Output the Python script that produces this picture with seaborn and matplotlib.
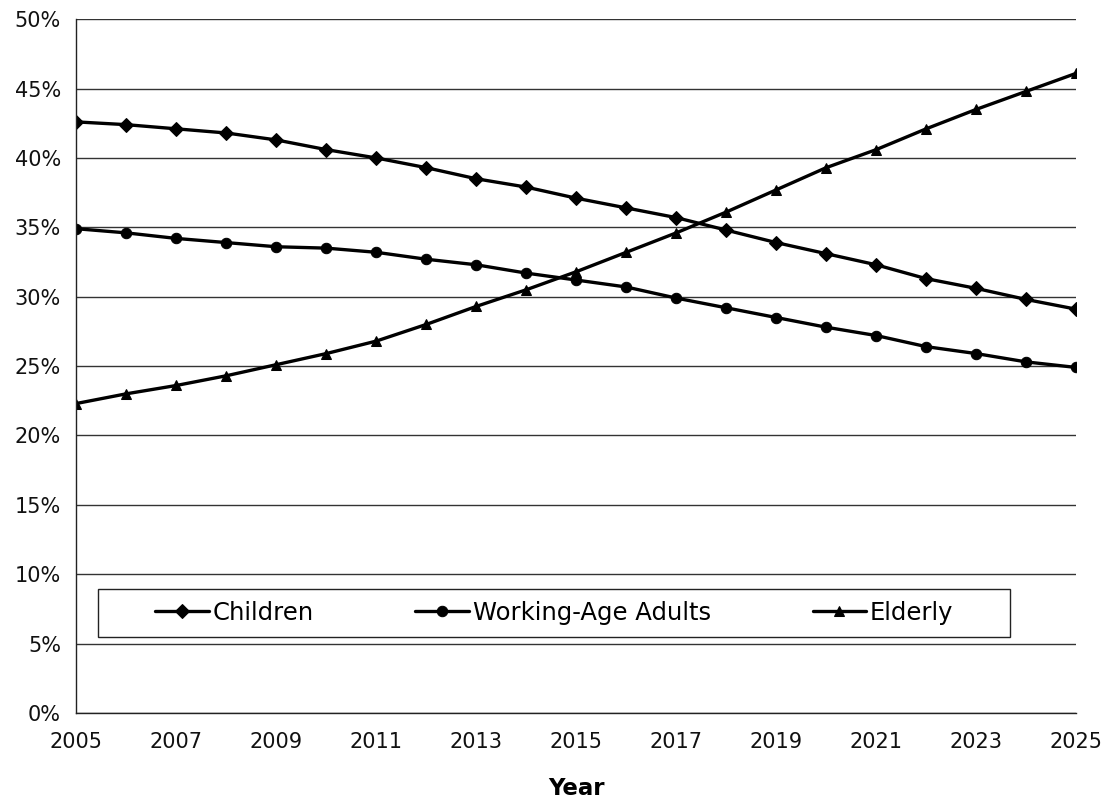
import pandas as pd
import matplotlib
matplotlib.use("Agg")
import matplotlib.pyplot as plt
import seaborn as sns
from matplotlib.patches import Rectangle
from matplotlib.ticker import PercentFormatter, MultipleLocator

# Values (percent of population)
years = list(range(2005, 2026))
children = [42.6, 42.4, 42.1, 41.8, 41.3, 40.6, 40.0, 39.3, 38.5, 37.9, 37.1,
            36.4, 35.7, 34.8, 33.9, 33.1, 32.3, 31.3, 30.6, 29.8, 29.1]
working_age = [34.9, 34.6, 34.2, 33.9, 33.6, 33.5, 33.2, 32.7, 32.3, 31.7, 31.2,
               30.7, 29.9, 29.2, 28.5, 27.8, 27.2, 26.4, 25.9, 25.3, 24.9]
elderly = [22.3, 23.0, 23.6, 24.3, 25.1, 25.9, 26.8, 28.0, 29.3, 30.5, 31.8,
           33.2, 34.6, 36.1, 37.7, 39.3, 40.6, 42.1, 43.5, 44.8, 46.1]
series_names = ["Children", "Working-Age Adults", "Elderly"]
y_ticks = [0, 5, 10, 15, 20, 25, 30, 35, 40, 45, 50]
x_labels = list(range(2005, 2026, 2))

df = pd.DataFrame({
    "Year": years * 3,
    "Share": children + working_age + elderly,
    "Group": [series_names[0]] * len(years) + [series_names[1]] * len(years)
             + [series_names[2]] * len(years),
})

sns.set_style("white")
plt.rcParams["font.family"] = ["DejaVu Sans"]
plt.rcParams["text.color"] = "black"

fig = plt.figure(figsize=(11.06, 8.01), dpi=100)
ax = fig.add_axes([0.069, 0.110, 0.904, 0.866])

sns.lineplot(
    data=df, x="Year", y="Share", hue="Group", style="Group",
    palette=["black"] * 3, markers=["D", "o", "^"], dashes=False,
    linewidth=2.4, markersize=7.5, markeredgecolor="black", ax=ax,
)

# Grid and axes
ax.set_xlim(2005, 2025)
ax.set_ylim(0, 50)
ax.set_yticks(y_ticks)
ax.yaxis.set_major_formatter(PercentFormatter(decimals=0))
ax.set_xticks(x_labels)
ax.xaxis.set_minor_locator(MultipleLocator(1))
ax.yaxis.grid(True, color="#333333", linewidth=1.0)
ax.xaxis.grid(False)
ax.set_axisbelow(True)
for side in ["top", "right"]:
    ax.spines[side].set_visible(False)
for side in ["left", "bottom"]:
    ax.spines[side].set_color("#222222")
    ax.spines[side].set_linewidth(1.0)
ax.tick_params(axis="both", which="major", direction="out", length=5,
               color="#444444", labelsize=15, labelcolor="#111111")
ax.tick_params(axis="x", which="minor", direction="out", length=3, color="#777777")
ax.tick_params(axis="x", pad=9)
ax.tick_params(axis="y", pad=6)

ax.set_xlabel("Year", fontsize=16.5, fontweight="bold", labelpad=18, color="black")
ax.set_ylabel("")

# Legend: boxed area inside the plot near the bottom
box = Rectangle((0.022, 0.1095), 0.912, 0.0695, transform=ax.transAxes,
                facecolor="white", edgecolor="#222222", linewidth=1.0, zorder=4)
ax.add_patch(box)
handles, labels = ax.get_legend_handles_labels()
leg = ax.legend(
    handles, labels, loc="center", ncol=3,
    bbox_to_anchor=(0.022 + 0.912 / 2, 0.1095 + 0.0695 / 2), fontsize=17.5,
    frameon=False, handlelength=2.2, handletextpad=0.15, columnspacing=4.2,
)
leg.set_zorder(5)
for line in leg.get_lines():
    line.set_linewidth(2.4)
for t in leg.get_texts():
    t.set_color("black")

fig.savefig("out.png", dpi=100, facecolor="white")
